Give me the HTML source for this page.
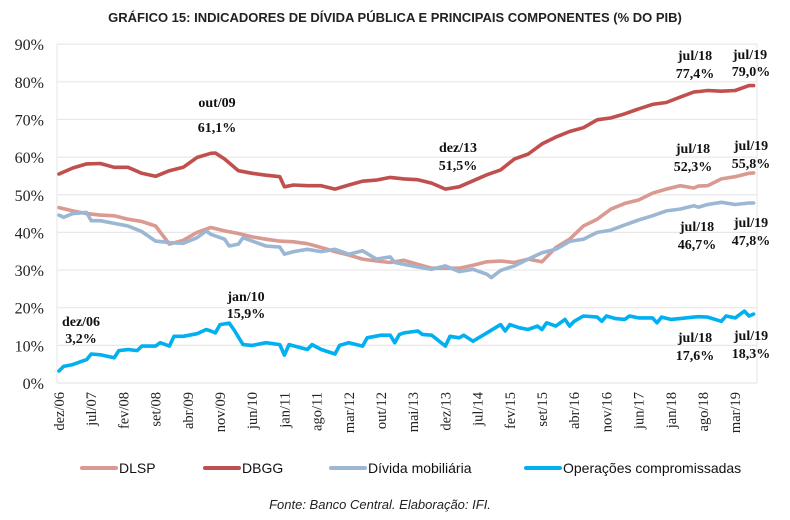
<!DOCTYPE html>
<html><head><meta charset="utf-8"><style>
body{margin:0;background:#fff;}
svg{display:block;}
.t{font-family:"Liberation Serif",serif;}
</style></head><body>
<svg width="790" height="520" xmlns="http://www.w3.org/2000/svg">
<text x="395" y="22" text-anchor="middle" font-family="Liberation Sans, sans-serif" font-weight="bold" font-size="13" fill="#222">GRÁFICO 15: INDICADORES DE DÍVIDA PÚBLICA E PRINCIPAIS COMPONENTES (% DO PIB)</text>
<g id="grid"></g><g id="yt"></g><g id="xt"></g><g id="lines"></g>
<g font-family="Liberation Serif, serif" font-weight="bold" font-size="14" fill="#111" text-anchor="middle">
<text x="217" y="107">out/09</text><text x="217" y="132">61,1%</text>
<text x="246" y="301">jan/10</text><text x="246" y="318">15,9%</text>
<text x="81" y="326">dez/06</text><text x="81" y="343">3,2%</text>
<text x="458" y="152">dez/13</text><text x="458" y="170">51,5%</text>
<text x="695" y="60">jul/18</text><text x="695" y="78">77,4%</text>
<text x="750" y="59">jul/19</text><text x="751" y="76">79,0%</text>
<text x="693" y="153">jul/18</text><text x="693" y="171">52,3%</text>
<text x="751" y="150">jul/19</text><text x="751" y="168">55,8%</text>
<text x="697" y="231">jul/18</text><text x="697" y="249">46,7%</text>
<text x="751" y="227">jul/19</text><text x="751" y="245">47,8%</text>
<text x="695" y="342">jul/18</text><text x="695" y="360">17,6%</text>
<text x="751" y="340">jul/19</text><text x="751" y="358">18,3%</text>
</g>
<g font-family="Liberation Sans Narrow, Liberation Sans, sans-serif" font-size="14" fill="#111">
<g><line x1="82" y1="468" x2="116" y2="468" stroke="#d99a91" stroke-width="4" stroke-linecap="round"/><text x="119" y="473">DLSP</text></g>
<g><line x1="205" y1="468" x2="239" y2="468" stroke="#c0504d" stroke-width="4" stroke-linecap="round"/><text x="242" y="473">DBGG</text></g>
<g><line x1="331" y1="468" x2="365" y2="468" stroke="#9bb7d4" stroke-width="4" stroke-linecap="round"/><text x="368" y="473">Dívida mobiliária</text></g>
<g><line x1="526" y1="468" x2="560" y2="468" stroke="#00b0f0" stroke-width="4" stroke-linecap="round"/><text x="563" y="473">Operações compromissadas</text></g>
</g>
<text x="380" y="509" text-anchor="middle" font-family="Liberation Sans Narrow, Liberation Sans, sans-serif" font-style="italic" font-size="13" fill="#222">Fonte: Banco Central. Elaboração: IFI.</text>
</svg>
<script>
const yTicks=[0,10,20,30,40,50,60,70,80,90];
const xLabels=["dez/06","jul/07","fev/08","set/08","abr/09","nov/09","jun/10","jan/11","ago/11","mar/12","out/12","mai/13","dez/13","jul/14","fev/15","set/15","abr/16","nov/16","jun/17","jan/18","ago/18","mar/19"];
const dbggM=[0,3,6,9,12,15,18,21,24,27,30,33,34,36,39,42,45,48,49,51,54,57,60,63,66,69,72,75,78,81,84,87,90,93,96,99,102,105,108,111,114,117,120,123,126,129,132,135,138,139,141,144,147,150,151];
const dbggV=[55.5,57.1,58.2,58.3,57.3,57.3,55.7,54.9,56.4,57.3,59.9,61.0,61.1,59.5,56.4,55.7,55.2,54.8,52.1,52.6,52.4,52.4,51.5,52.6,53.6,53.9,54.6,54.2,54.0,53.1,51.5,52.1,53.7,55.3,56.6,59.5,60.8,63.5,65.3,66.8,67.8,69.9,70.4,71.5,72.8,74.0,74.5,75.9,77.3,77.4,77.7,77.5,77.7,79.0,79.0];
const dlspM=[0,3,6,9,12,15,18,21,24,27,30,33,36,39,42,45,48,51,54,57,60,63,66,69,72,75,78,81,84,87,90,93,96,99,102,105,108,111,114,117,120,123,126,129,132,135,138,139,141,144,147,150,151];
const dlspV=[46.6,45.7,45.0,44.6,44.4,43.5,42.9,41.7,36.9,37.9,40.0,41.3,40.4,39.7,38.8,38.2,37.7,37.5,37.0,36.0,34.9,34.0,32.9,32.4,32.0,32.6,31.5,30.5,30.5,30.5,31.3,32.2,32.4,32.0,32.9,32.2,36.0,38.2,41.7,43.5,46.2,47.7,48.6,50.4,51.5,52.4,51.8,52.3,52.4,54.2,54.8,55.7,55.8];
const mobM=[0,1,3,6,7,9,12,15,18,21,24,27,30,32,33,36,37,39,40,42,45,48,49,51,54,57,60,63,66,69,72,73,75,78,81,84,87,90,93,94,96,99,102,105,108,111,114,117,120,123,126,129,132,135,138,139,141,144,147,150,151];
const mobV=[44.6,44.0,45.0,45.3,43.1,43.1,42.4,41.7,40.2,37.7,37.3,37.1,38.6,40.4,39.5,38.2,36.4,36.9,38.6,37.7,36.4,36.1,34.2,34.9,35.5,34.9,35.5,34.2,35.1,32.9,33.5,32.0,31.5,30.8,30.2,31.1,29.6,30.2,28.9,28.0,29.9,31.1,32.9,34.6,35.5,37.6,38.2,40.0,40.6,42.0,43.3,44.4,45.7,46.2,47.1,46.7,47.4,48.0,47.4,47.8,47.8];
const opsM=[0,1,3,5,6,7,9,12,13,15,17,18,21,22,24,25,27,30,32,33,34,35,37,38,40,42,45,48,49,50,54,55,57,60,61,63,66,67,70,72,73,74,75,78,79,81,84,85,87,88,90,93,96,97,98,100,102,104,105,106,108,110,111,112,114,117,118,119,121,123,124,126,129,130,131,133,135,138,139,141,144,145,147,149,150,151];
const opsV=[3.2,4.4,4.9,5.8,6.2,7.7,7.5,6.7,8.6,8.9,8.6,9.8,9.8,10.7,9.8,12.4,12.4,13.1,14.2,13.8,13.3,15.5,15.9,14.2,10.2,10.0,10.7,10.2,7.4,10.2,8.9,10.2,8.9,7.7,10.0,10.7,9.8,12.0,12.7,12.7,10.7,12.9,13.3,13.8,12.9,12.7,9.8,12.4,12.0,12.7,11.1,13.3,15.5,13.8,15.5,14.7,14.2,15.1,14.2,16.0,15.1,16.9,15.1,16.4,17.8,17.5,16.4,17.8,17.1,16.9,17.8,17.3,17.3,16.0,17.5,16.9,17.1,17.5,17.6,17.5,16.4,17.8,17.3,19.1,17.8,18.3];
const NS="http://www.w3.org/2000/svg";
const x0=59,dx=4.6,y0=383,ppu=3.765,xL=57,xR=757;
const X=m=>x0+dx*m, Y=v=>y0-v*ppu;
function mk(t,a,p){const e=document.createElementNS(NS,t);for(const k in a)e.setAttribute(k,a[k]);p.appendChild(e);return e;}
const grid=document.getElementById('grid'),yt=document.getElementById('yt'),xt=document.getElementById('xt'),lines=document.getElementById('lines');
yTicks.forEach(v=>{
 const l=mk('line',{x1:xL,x2:xR,y1:Y(v),y2:Y(v),stroke:'#e8e8e8','stroke-width':1.2},grid);
 
 
 const t=mk('text',{x:44,y:Y(v)+6,'text-anchor':'end','font-family':'Liberation Serif, serif','font-size':16,fill:'#222'},yt);
 t.textContent=v+'%';
 
 
});
const rb=mk('line',{x1:xR,x2:xR,y1:Y(90),y2:Y(0),stroke:'#e8e8e8','stroke-width':1.2},grid);


const lb=mk('line',{x1:xL,x2:xL,y1:Y(90),y2:Y(0),stroke:'#e8e8e8','stroke-width':1.2},grid);


xLabels.forEach((s,i)=>{
 const x=X(i*7)+5;
 const t=mk('text',{x:0,y:0,transform:`translate(${x},392) rotate(-90)`,'text-anchor':'end','font-family':'Liberation Serif, serif','font-size':14.5,fill:'#222'},xt);
 t.textContent=s;
 
 
});
function draw(M,V,c,name){
 const d=M.map((m,i)=>(i?'L':'M')+X(m).toFixed(1)+','+Y(V[i]).toFixed(1)).join('');
 const p=mk('path',{d:d,fill:'none',stroke:c,'stroke-width':3.6,'stroke-linejoin':'round','stroke-linecap':'round'},lines);
 
 
}
draw(dlspM,dlspV,'#d99a91','line-dlsp');
draw(dbggM,dbggV,'#c0504d','line-dbgg');
draw(mobM,mobV,'#9bb7d4','line-divida-mobiliaria');
draw(opsM,opsV,'#00b0f0','line-operacoes-compromissadas');
</script>
</body></html>
